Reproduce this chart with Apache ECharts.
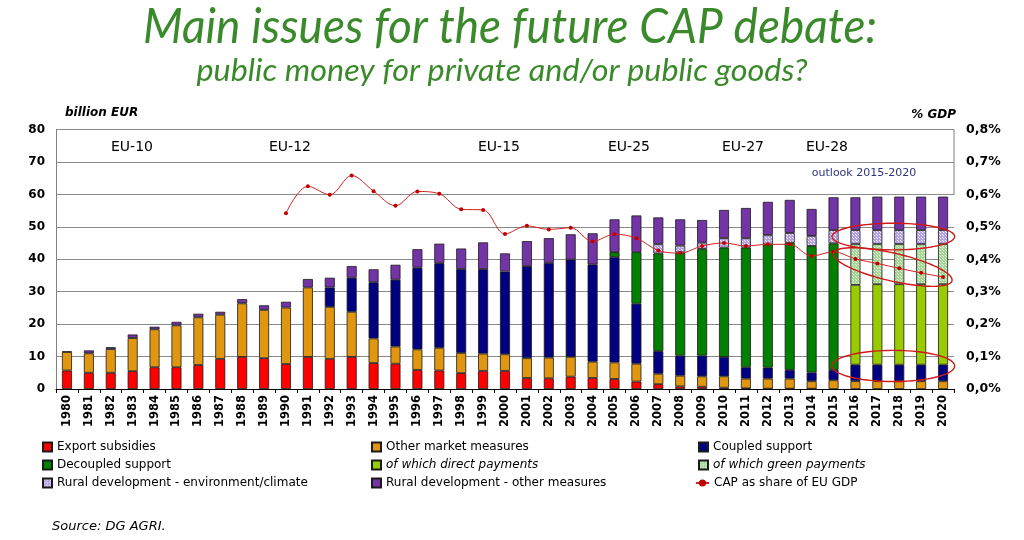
<!DOCTYPE html>
<html><head><meta charset="utf-8">
<script src="https://cdn.jsdelivr.net/npm/echarts@6/dist/echarts.min.js"></script>
<style>html,body{margin:0;padding:0;background:#fff}#c{width:1024px;height:540px}</style>
</head><body><div id="c"></div><script>
const years = ['1980','1981','1982','1983','1984','1985','1986','1987','1988','1989','1990','1991','1992','1993','1994','1995','1996','1997','1998','1999','2000','2001','2002','2003','2004','2005','2006','2007','2008','2009','2010','2011','2012','2013','2014','2015','2016','2017','2018','2019','2020'];
const exportSubsidies = [5.7,5.0,5.0,5.5,6.7,6.7,7.4,9.3,9.9,9.5,7.7,9.9,9.3,9.9,8.0,7.8,5.9,5.7,4.9,5.6,5.6,3.4,3.3,3.8,3.4,3.1,2.3,1.5,0.8,0.7,0.4,0.2,0.1,0.1,0.1,null,null,null,null,null,null];
const otherMarket = [5.7,6.0,7.3,10.2,11.7,12.9,14.7,13.6,16.5,14.9,17.4,21.4,16.0,13.9,7.6,5.3,6.3,7.0,6.2,5.3,5.1,6.1,6.4,6.1,5.0,5.1,5.5,3.2,3.3,3.2,3.5,3.0,3.1,3.1,2.3,2.7,2.4,2.4,2.4,2.4,2.4];
const coupled = [null,null,null,null,null,null,null,null,null,null,null,null,6.0,10.5,17.3,20.6,25.2,26.1,25.9,26.1,25.5,28.4,29.2,30.0,30.0,32.5,18.5,7.0,6.2,6.4,6.0,3.5,3.4,2.7,2.7,3.2,5.1,5.1,5.1,5.1,5.1];
const decoupled = [null,null,null,null,null,null,null,null,null,null,null,null,null,null,null,null,null,null,null,null,null,null,null,null,null,1.5,15.9,30.1,31.8,32.9,33.7,36.9,38.0,39.2,39.0,39.0,null,null,null,null,null];
const directPayments = [null,null,null,null,null,null,null,null,null,null,null,null,null,null,null,null,null,null,null,null,null,null,null,null,null,null,null,null,null,null,null,null,null,null,null,null,24.6,24.8,24.8,24.8,24.8];
const greenPayments = [null,null,null,null,null,null,null,null,null,null,null,null,null,null,null,null,null,null,null,null,null,null,null,null,null,null,null,null,null,null,null,null,null,null,null,null,12.6,12.4,12.4,12.4,12.4];
const rdEnvironment = [null,null,null,null,null,null,null,null,null,null,null,null,null,null,null,null,null,null,null,null,null,null,null,null,null,null,null,2.9,2.1,1.9,2.9,2.9,2.9,3.0,3.1,4.1,4.3,4.3,4.3,4.3,4.3];
const rdOther = [0.2,0.9,0.6,1.1,0.8,1.1,1.1,0.9,1.3,1.4,1.8,2.6,3.0,3.6,4.0,4.6,5.7,6.0,6.3,8.2,5.6,7.7,7.6,7.8,9.6,10.1,11.3,8.2,8.1,7.0,8.7,9.3,10.2,10.2,8.3,10.1,10.1,10.3,10.3,10.3,10.3];
const capShareGdp = [null,null,null,null,null,null,null,null,null,null,0.542,0.625,0.599,0.658,0.610,0.565,0.609,0.602,0.554,0.552,0.478,0.503,0.492,0.497,0.455,0.477,0.465,0.427,0.419,0.441,0.450,0.441,0.446,0.446,0.410,0.423,0.401,0.387,0.372,0.358,0.345];
const leftTicks = {min:0, max:80, interval:10};
const rightTicks = {min:0, max:0.8, interval:0.1};
const enlargements = [['EU-10',132],['EU-12',290],['EU-15',499],['EU-25',629],['EU-27',743],['EU-28',827]];
// ellipse annotations: [category, centre value, x offset (categories), half width (categories), half height (EUR bn), tilt deg]
const ellipses = [['2018',47.0,-0.27,2.8,4.1,0],['2018',37.6,-0.3,2.78,4.3,13],['2018',7.1,-0.27,2.8,4.8,0]];

const F = 'DejaVu Sans';
const chart = echarts.init(document.getElementById('c'), null, {renderer:'canvas'});
const border = {borderColor:'#1a1a1a', borderWidth:0.8};
function bar(name, data, color){
  return {name, type:'bar', stack:'t', data, barWidth:10, itemStyle:Object.assign({color}, border)};
}
function dotted(base, dot){
  const c=document.createElement('canvas'); c.width=3; c.height=3;
  const g=c.getContext('2d'); g.fillStyle=base; g.fillRect(0,0,3,3);
  g.fillStyle=dot; g.fillRect(1,1,1,1); g.fillRect(0,0,1,1);
  return {image:c, repeat:'repeat'};
}

function measure(text, font){
  const cv=document.createElement('canvas').getContext('2d'); cv.font=font; return cv.measureText(text).width;
}
const titleFont = 'italic 400 48px Lato';
const subFont = 'italic 400 31px Lato';
const tTxt='Main issues for the future CAP debate:';
const sTxt='public money for private and/or public goods?';
const tScale = 734/measure(tTxt,titleFont);
const sScale = 611/measure(sTxt,subFont);
const green='#3a8a2c';

const legendText = {fontFamily:F, fontSize:12, color:'#000', lineHeight:14};
const legendBase = {orient:'vertical', top:440, itemWidth:9, itemHeight:9, itemGap:4, padding:0, selectedMode:false, textStyle:legendText};
const R = n=>({name:n, icon:'rect'});

const option = {
  animation:false,
  backgroundColor:'#fff',
  grid:{left:56, right:70, top:129.5, bottom:151, containLabel:false},
  legend:[
    Object.assign({left:42, data:[R('Export subsidies'),R('Decoupled support'),R('Rural development - environment/climate')]}, legendBase),
    Object.assign({left:371, data:[R('Other market measures'),{name:'of which direct payments',icon:'rect',textStyle:{fontStyle:'italic'}},R('Rural development - other measures')]}, legendBase),
    Object.assign({left:698, data:[R('Coupled support'),{name:'of which green payments',icon:'rect',textStyle:{fontStyle:'italic'}}]}, legendBase),
    Object.assign({}, legendBase, {left:695, top:476, itemWidth:13, data:[{name:'CAP as share of EU GDP'}]})
  ],
  xAxis:{type:'category', data:years, boundaryGap:true,
    axisLine:{lineStyle:{color:'#000', width:1}},
    axisTick:{show:true, length:4, lineStyle:{color:'#000'}},
    axisLabel:{rotate:90, interval:0, fontFamily:F, fontWeight:'bold', fontSize:11.5, color:'#000', margin:6}},
  yAxis:[
    {type:'value', min:leftTicks.min, max:leftTicks.max, interval:leftTicks.interval, position:'left',
      axisLine:{show:true, lineStyle:{color:'#808080'}}, axisTick:{show:false},
      splitLine:{lineStyle:{color:'#8a8a8a', width:1}},
      axisLabel:{fontFamily:F, fontWeight:'bold', fontSize:12, color:'#000', margin:11}},
    {type:'value', min:rightTicks.min, max:rightTicks.max, interval:rightTicks.interval, position:'right',
      axisLine:{show:false}, axisTick:{show:false}, splitLine:{show:false},
      axisLabel:{fontFamily:F, fontWeight:'bold', fontSize:12.5, color:'#000', margin:12,
        formatter:v=>v.toFixed(1).replace('.',',')+'%'}}
  ],
  series:[
    bar('Export subsidies', exportSubsidies, '#ff0000'),
    bar('Other market measures', otherMarket, '#e0960f'),
    bar('Coupled support', coupled, '#000080'),
    bar('Decoupled support', decoupled, '#008000'),
    bar('of which direct payments', directPayments, '#99cc00'),
    bar('of which green payments', greenPayments, dotted('#a6d696','#e4f4dc')),
    bar('Rural development - environment/climate', rdEnvironment, dotted('#b4a2e2','#f0ecfc')),
    bar('Rural development - other measures', rdOther, '#7334a6'),
    {name:'CAP as share of EU GDP', type:'line', yAxisIndex:1, data:capShareGdp, smooth:0.35,
      symbol:'circle', symbolSize:4, z:4,
      lineStyle:{color:'#d42020', width:1}, itemStyle:{color:'#c00000'}},
    {name:'ellipses', type:'custom', xAxisIndex:0, yAxisIndex:0, z:6, silent:true, clip:false,
      data:ellipses,
      renderItem:function(params, api){
        const sx = api.size([1,0])[0], sy = api.size([0,1])[1];
        const c = api.coord([api.value(0), api.value(1)]);
        const cx = c[0] + api.value(2)*sx, cy = c[1];
        const rx = api.value(3)*sx, ry = api.value(4)*sy, r = api.value(5)*Math.PI/180;
        const pts=[];
        for(let i=0;i<90;i++){const t=i/90*Math.PI*2; const x=rx*Math.cos(t), y=ry*Math.sin(t);
          pts.push([cx + x*Math.cos(r) - y*Math.sin(r), cy + x*Math.sin(r) + y*Math.cos(r)]);}
        return {type:'polygon', shape:{points:pts}, style:{fill:null, stroke:'#d01818', lineWidth:1.4}};
      }}
  ],
  graphic:[
    {type:'text', x:510, y:28, scaleX:tScale, style:{text:tTxt, font:titleFont, fill:green, textAlign:'center', textVerticalAlign:'middle'}},
    {type:'text', x:502, y:71, scaleX:sScale, style:{text:sTxt, font:subFont, fill:green, textAlign:'center', textVerticalAlign:'middle'}},
    {type:'text', x:65, y:113, style:{text:'billion EUR', font:'italic bold 12px "DejaVu Sans"', fill:'#000', textVerticalAlign:'middle'}},
    {type:'text', x:956, y:115, style:{text:'% GDP', font:'italic bold 12px "DejaVu Sans"', fill:'#000', textAlign:'right', textVerticalAlign:'middle'}},
    {type:'text', x:864, y:173, style:{text:'outlook 2015-2020', font:'11px "DejaVu Sans"', fill:'#2e3580', textAlign:'center', textVerticalAlign:'middle'}},
    {type:'line', shape:{x1:954, y1:129.5, x2:954, y2:195}, style:{stroke:'#808080', lineWidth:1}},
    {type:'text', x:52, y:527, style:{text:'Source: DG AGRI.', font:'italic 13px "DejaVu Sans"', fill:'#000', textVerticalAlign:'middle'}}
  ].concat(enlargements.map(e=>({type:'text', x:e[1], y:147, style:{text:e[0], font:'14px "DejaVu Sans"', fill:'#000', textAlign:'center', textVerticalAlign:'middle'}})))
};
chart.setOption(option);
</script></body></html>
